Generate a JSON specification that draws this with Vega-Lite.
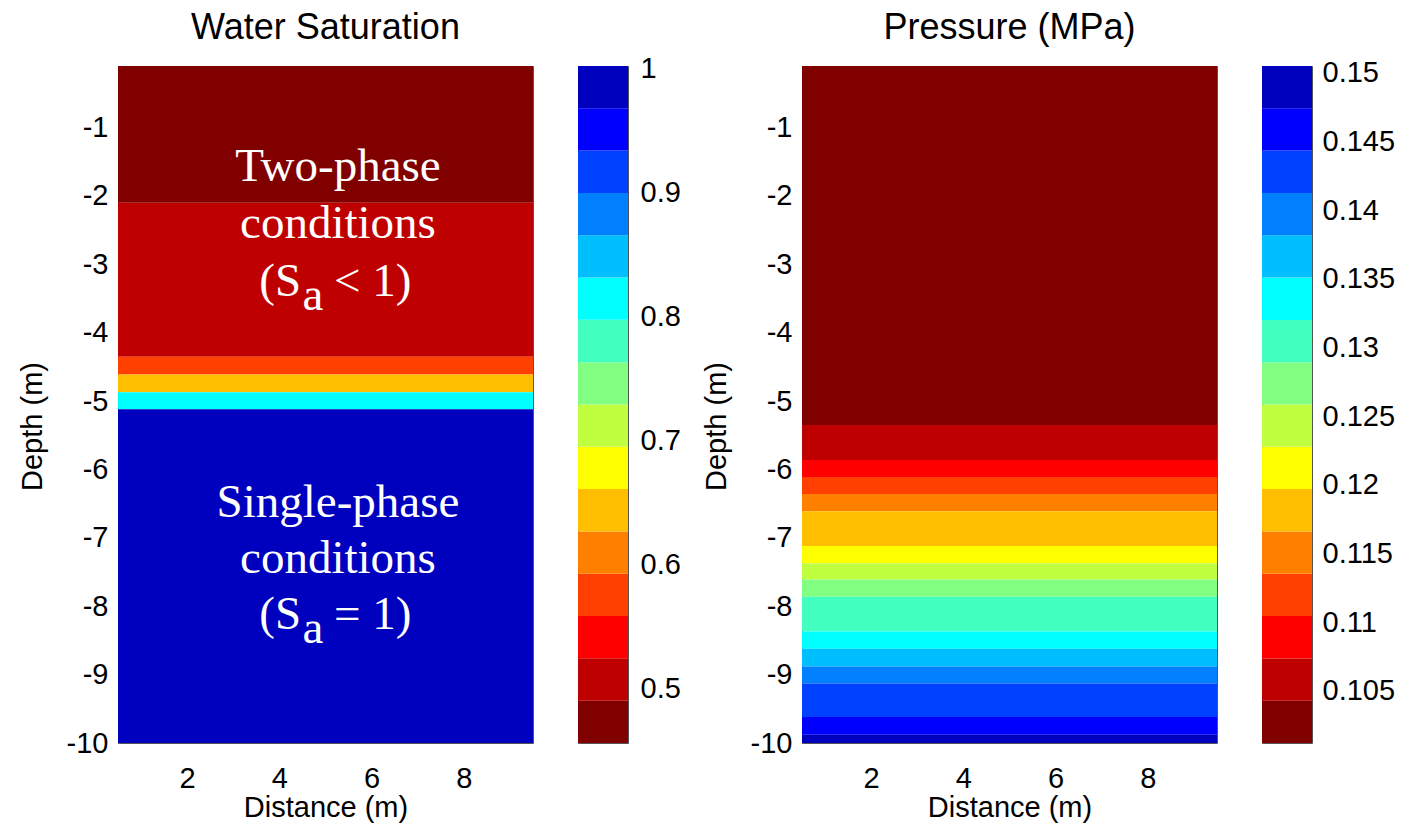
{
  "$schema": "https://vega.github.io/schema/vega-lite/v6.json",
  "padding": {"left": 17, "top": -3, "right": 0, "bottom": 0},
  "background": "white",
  "datasets": {
    "satBands": [
      {"top": -0.1, "bottom": -2.10, "level": 1},
      {"top": -2.10, "bottom": -4.35, "level": 2},
      {"top": -4.35, "bottom": -4.61, "level": 4},
      {"top": -4.61, "bottom": -4.87, "level": 6},
      {"top": -4.87, "bottom": -5.12, "level": 11},
      {"top": -5.12, "bottom": -10, "level": 16}
    ],
    "presBands": [
      {"top": -0.1, "bottom": -5.35, "level": 1},
      {"top": -5.35, "bottom": -5.86, "level": 2},
      {"top": -5.86, "bottom": -6.11, "level": 3},
      {"top": -6.11, "bottom": -6.36, "level": 4},
      {"top": -6.36, "bottom": -6.61, "level": 5},
      {"top": -6.61, "bottom": -7.12, "level": 6},
      {"top": -7.12, "bottom": -7.37, "level": 7},
      {"top": -7.37, "bottom": -7.61, "level": 8},
      {"top": -7.61, "bottom": -7.86, "level": 9},
      {"top": -7.86, "bottom": -8.37, "level": 10},
      {"top": -8.37, "bottom": -8.62, "level": 11},
      {"top": -8.62, "bottom": -8.88, "level": 12},
      {"top": -8.88, "bottom": -9.13, "level": 13},
      {"top": -9.13, "bottom": -9.62, "level": 14},
      {"top": -9.62, "bottom": -9.88, "level": 15},
      {"top": -9.88, "bottom": -10, "level": 16}
    ],
    "satBar": [
      {"lo": 0.456, "hi": 0.4901, "level": 1},
      {"lo": 0.4901, "hi": 0.5243, "level": 2},
      {"lo": 0.5243, "hi": 0.5584, "level": 3},
      {"lo": 0.5584, "hi": 0.5925, "level": 4},
      {"lo": 0.5925, "hi": 0.6266, "level": 5},
      {"lo": 0.6266, "hi": 0.6608, "level": 6},
      {"lo": 0.6608, "hi": 0.6949, "level": 7},
      {"lo": 0.6949, "hi": 0.7290, "level": 8},
      {"lo": 0.7290, "hi": 0.7631, "level": 9},
      {"lo": 0.7631, "hi": 0.7973, "level": 10},
      {"lo": 0.7973, "hi": 0.8314, "level": 11},
      {"lo": 0.8314, "hi": 0.8655, "level": 12},
      {"lo": 0.8655, "hi": 0.8996, "level": 13},
      {"lo": 0.8996, "hi": 0.9338, "level": 14},
      {"lo": 0.9338, "hi": 0.9679, "level": 15},
      {"lo": 0.9679, "hi": 1.002, "level": 16}
    ],
    "presBar": [
      {"lo": 0.1012, "hi": 0.10428, "level": 1},
      {"lo": 0.10428, "hi": 0.10736, "level": 2},
      {"lo": 0.10736, "hi": 0.11044, "level": 3},
      {"lo": 0.11044, "hi": 0.11353, "level": 4},
      {"lo": 0.11353, "hi": 0.11661, "level": 5},
      {"lo": 0.11661, "hi": 0.11969, "level": 6},
      {"lo": 0.11969, "hi": 0.12277, "level": 7},
      {"lo": 0.12277, "hi": 0.12585, "level": 8},
      {"lo": 0.12585, "hi": 0.12893, "level": 9},
      {"lo": 0.12893, "hi": 0.13201, "level": 10},
      {"lo": 0.13201, "hi": 0.13509, "level": 11},
      {"lo": 0.13509, "hi": 0.13818, "level": 12},
      {"lo": 0.13818, "hi": 0.14126, "level": 13},
      {"lo": 0.14126, "hi": 0.14434, "level": 14},
      {"lo": 0.14434, "hi": 0.14742, "level": 15},
      {"lo": 0.14742, "hi": 0.1505, "level": 16}
    ],
    "centerText": [
      {"x": 5.27, "y": -1.781, "t": "Two-phase"},
      {"x": 5.27, "y": -2.615, "t": "conditions"},
      {"x": 5.27, "y": -6.694, "t": "Single-phase"},
      {"x": 5.27, "y": -7.512, "t": "conditions"}
    ],
    "rightText": [
      {"x": 4.47, "y": -3.463, "t": "(S"},
      {"x": 4.47, "y": -8.331, "t": "(S"}
    ],
    "leftText": [
      {"x": 4.50, "y": -3.667, "t": "a"},
      {"x": 4.50, "y": -8.536, "t": "a"},
      {"x": 5.186, "y": -3.463, "t": "< 1)"},
      {"x": 5.186, "y": -8.331, "t": "= 1)"}
    ]
  },
  "spacing": 20,
  "hconcat": [
    {
      "width": 415,
      "height": 677,
      "title": {"text": "Water Saturation"},
      "layer": [
        {
          "data": {"name": "satBands"},
          "mark": {"type": "rect"},
          "encoding": {
            "x": {"datum": 0.5, "type": "quantitative", "scale": {"domain": [0.5, 9.5], "nice": false, "zero": false}, "axis": {"values": [2, 4, 6, 8], "title": "Distance (m)", "labelPadding": 21, "titlePadding": 0}},
            "x2": {"datum": 9.5},
            "y": {"field": "top", "type": "quantitative", "scale": {"domain": [-10, -0.1], "nice": false, "zero": false}, "axis": {"values": [-1, -2, -3, -4, -5, -6, -7, -8, -9, -10], "labelExpr": "'-' + format(abs(datum.value), 'd')", "title": "Depth (m)", "labelPadding": 10, "titlePadding": 19, "titleY": 360}},
            "y2": {"field": "bottom"},
            "color": {"field": "level", "type": "ordinal", "scale": {"domain": [1,2,3,4,5,6,7,8,9,10,11,12,13,14,15,16], "range": ["#800000","#BF0000","#FF0000","#FF4000","#FF8000","#FFBF00","#FFFF00","#BFFF40","#80FF80","#40FFBF","#00FFFF","#00BFFF","#0080FF","#0040FF","#0000FF","#0000BF"]}, "legend": null}
          }
        },
        {
          "data": {"name": "centerText"},
          "mark": {"type": "text", "align": "center", "baseline": "alphabetic", "font": "Liberation Serif", "fontSize": 47, "color": "white"},
          "encoding": {"x": {"field": "x", "type": "quantitative"}, "y": {"field": "y", "type": "quantitative"}, "text": {"field": "t"}}
        },
        {
          "data": {"name": "rightText"},
          "mark": {"type": "text", "align": "right", "baseline": "alphabetic", "font": "Liberation Serif", "fontSize": 47, "color": "white"},
          "encoding": {"x": {"field": "x", "type": "quantitative"}, "y": {"field": "y", "type": "quantitative"}, "text": {"field": "t"}}
        },
        {
          "data": {"name": "leftText"},
          "mark": {"type": "text", "align": "left", "baseline": "alphabetic", "font": "Liberation Serif", "fontSize": 47, "color": "white"},
          "encoding": {"x": {"field": "x", "type": "quantitative"}, "y": {"field": "y", "type": "quantitative"}, "text": {"field": "t"}}
        }
      ]
    },
    {
      "width": 50,
      "height": 677,
      "title": {"text": " ", "anchor": "start", "dx": -23},
      "data": {"name": "satBar"},
      "mark": {"type": "rect"},
      "encoding": {
        "y": {"field": "lo", "type": "quantitative", "scale": {"domain": [0.456, 1.002], "nice": false, "zero": false}, "axis": {"orient": "right", "values": [0.5, 0.6, 0.7, 0.8, 0.9, 1], "format": "~g", "title": null, "ticks": true, "tickSize": -6, "tickColor": "#333", "labelPadding": 18}},
        "y2": {"field": "hi"},
        "color": {"field": "level", "type": "ordinal", "scale": {"domain": [1,2,3,4,5,6,7,8,9,10,11,12,13,14,15,16], "range": ["#800000","#BF0000","#FF0000","#FF4000","#FF8000","#FFBF00","#FFFF00","#BFFF40","#80FF80","#40FFBF","#00FFFF","#00BFFF","#0080FF","#0040FF","#0000FF","#0000BF"]}, "legend": null}
      }
    },
    {
      "width": 415,
      "height": 677,
      "title": {"text": "Pressure (MPa)"},
      "data": {"name": "presBands"},
      "mark": {"type": "rect"},
      "encoding": {
        "x": {"datum": 0.5, "type": "quantitative", "scale": {"domain": [0.5, 9.5], "nice": false, "zero": false}, "axis": {"values": [2, 4, 6, 8], "title": "Distance (m)", "labelPadding": 21, "titlePadding": 0}},
        "x2": {"datum": 9.5},
        "y": {"field": "top", "type": "quantitative", "scale": {"domain": [-10, -0.1], "nice": false, "zero": false}, "axis": {"values": [-1, -2, -3, -4, -5, -6, -7, -8, -9, -10], "labelExpr": "'-' + format(abs(datum.value), 'd')", "title": "Depth (m)", "labelPadding": 10, "titlePadding": 19, "titleY": 360}},
        "y2": {"field": "bottom"},
        "color": {"field": "level", "type": "ordinal", "scale": {"domain": [1,2,3,4,5,6,7,8,9,10,11,12,13,14,15,16], "range": ["#800000","#BF0000","#FF0000","#FF4000","#FF8000","#FFBF00","#FFFF00","#BFFF40","#80FF80","#40FFBF","#00FFFF","#00BFFF","#0080FF","#0040FF","#0000FF","#0000BF"]}, "legend": null}
      }
    },
    {
      "width": 50,
      "height": 677,
      "title": {"text": " ", "anchor": "start", "dx": -23},
      "data": {"name": "presBar"},
      "mark": {"type": "rect"},
      "encoding": {
        "y": {"field": "lo", "type": "quantitative", "scale": {"domain": [0.1012, 0.1505], "nice": false, "zero": false}, "axis": {"orient": "right", "values": [0.105, 0.11, 0.115, 0.12, 0.125, 0.13, 0.135, 0.14, 0.145, 0.15], "format": "~g", "title": null, "ticks": true, "tickSize": -6, "tickColor": "#333", "labelPadding": 16}},
        "y2": {"field": "hi"},
        "color": {"field": "level", "type": "ordinal", "scale": {"domain": [1,2,3,4,5,6,7,8,9,10,11,12,13,14,15,16], "range": ["#800000","#BF0000","#FF0000","#FF4000","#FF8000","#FFBF00","#FFFF00","#BFFF40","#80FF80","#40FFBF","#00FFFF","#00BFFF","#0080FF","#0040FF","#0000FF","#0000BF"]}, "legend": null}
      }
    }
  ],
  "resolve": {"scale": {"y": "independent", "x": "independent"}},
  "config": {
    "view": {"stroke": "#555", "strokeWidth": 1},
    "axis": {"labelFont": "Liberation Sans", "labelFontSize": 29, "labelColor": "#000", "titleFont": "Liberation Sans", "titleFontSize": 29, "titleFontWeight": "normal", "titleColor": "#000", "domain": false, "grid": false, "ticks": false},
    "title": {"font": "Liberation Sans", "fontSize": 36, "fontWeight": "normal", "color": "#000", "offset": 19, "anchor": "middle"}
  }
}
